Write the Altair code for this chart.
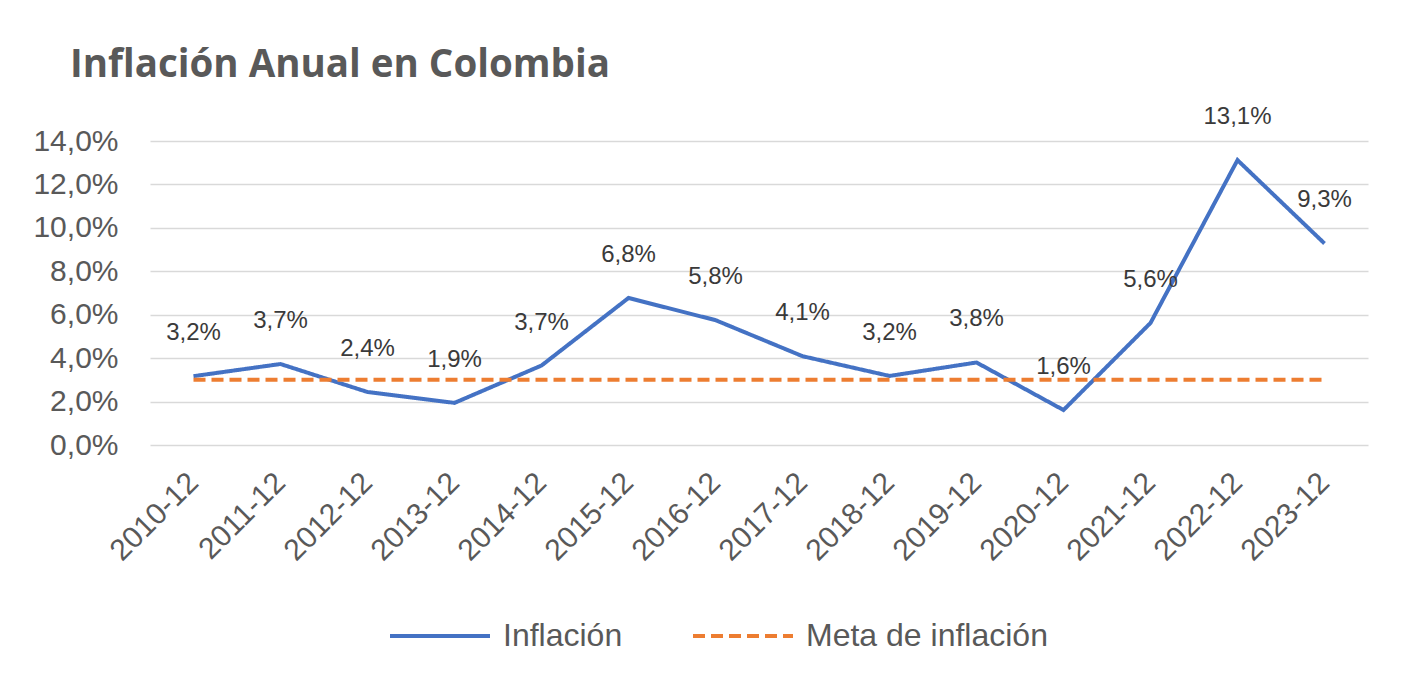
import altair as alt
import pandas as pd

periodos = ["2010-12", "2011-12", "2012-12", "2013-12", "2014-12", "2015-12", "2016-12",
            "2017-12", "2018-12", "2019-12", "2020-12", "2021-12", "2022-12", "2023-12"]
inflacion = [3.17, 3.73, 2.44, 1.94, 3.66, 6.77, 5.75, 4.09, 3.18, 3.80, 1.61, 5.62, 13.12, 9.28]
meta = [3.0] * 14
series = ["Inflación", "Meta de inflación"]
y_ticks = [0, 2, 4, 6, 8, 10, 12, 14]

BLUE = "#4472C4"
ORANGE = "#ED7D31"
GRAY = "#595959"
FONT = "Liberation Sans"

df = pd.DataFrame({
    "periodo": periodos + periodos,
    "valor": inflacion + meta,
    "serie": [series[0]] * len(periodos) + [series[1]] * len(periodos),
})
df_inf = pd.DataFrame({"periodo": periodos, "valor": inflacion})

x_enc = alt.X(
    "periodo:N", sort=periodos, title=None,
    scale=alt.Scale(type="point", padding=0.5),
    axis=alt.Axis(labelAngle=-45, labelFontSize=30, labelColor=GRAY, labelFont=FONT,
                  domain=False, ticks=False, grid=False, labelPadding=22, labelOffset=-11),
)
y_enc = alt.Y(
    "valor:Q", title=None,
    scale=alt.Scale(domain=[0, 14], nice=False, zero=True),
    axis=alt.Axis(values=y_ticks, grid=True, gridColor="#D9D9D9", gridWidth=1.5,
                  domain=False, ticks=False, tickSize=0, labelPadding=32,
                  labelFontSize=30, labelColor=GRAY, labelFont=FONT,
                  labelExpr="replace(format(datum.value, '.1f'), '.', ',') + '%'"),
)

legend = alt.Legend(
    title=None, orient="none", direction="horizontal", legendX=238, legendY=443,
    symbolType="stroke", symbolSize=10000, symbolStrokeWidth=4,
    labelFontSize=32, labelFont=FONT, labelColor=GRAY, labelOffset=11, labelLimit=500,
    columnPadding=62, padding=0,
)

lines = alt.Chart(df).mark_line(strokeWidth=4).encode(
    x=x_enc,
    y=y_enc,
    color=alt.Color("serie:N", scale=alt.Scale(domain=series, range=[BLUE, ORANGE]), legend=legend),
    strokeDash=alt.StrokeDash("serie:N", scale=alt.Scale(domain=series, range=[[1, 0], [12, 6]]), legend=legend),
)

labels = alt.Chart(df_inf).transform_calculate(
    etiqueta="replace(format(datum.valor, '.1f'), '.', ',') + '%'"
).mark_text(dy=-43, fontSize=24, color="#3A3A3A", font=FONT).encode(
    x=alt.X("periodo:N", sort=periodos),
    y=alt.Y("valor:Q"),
    text="etiqueta:N",
)

chart = alt.layer(lines, labels).properties(
    width=1218,
    height=304,
    background="white",
    autosize=alt.AutoSizeParams(type="none"),
    padding={"left": 142, "top": 133, "right": 38, "bottom": 239},
    title=alt.TitleParams(
        "Inflación Anual en Colombia", anchor="start", frame="group",
        font="Open Sans", fontSize=38.5, fontWeight="bold", color=GRAY,
        dx=-80, offset=0, dy=-20,
    ),
).configure_view(stroke="transparent", strokeWidth=0)

chart.save("out.html", embed_options={"renderer": "svg", "actions": False})
